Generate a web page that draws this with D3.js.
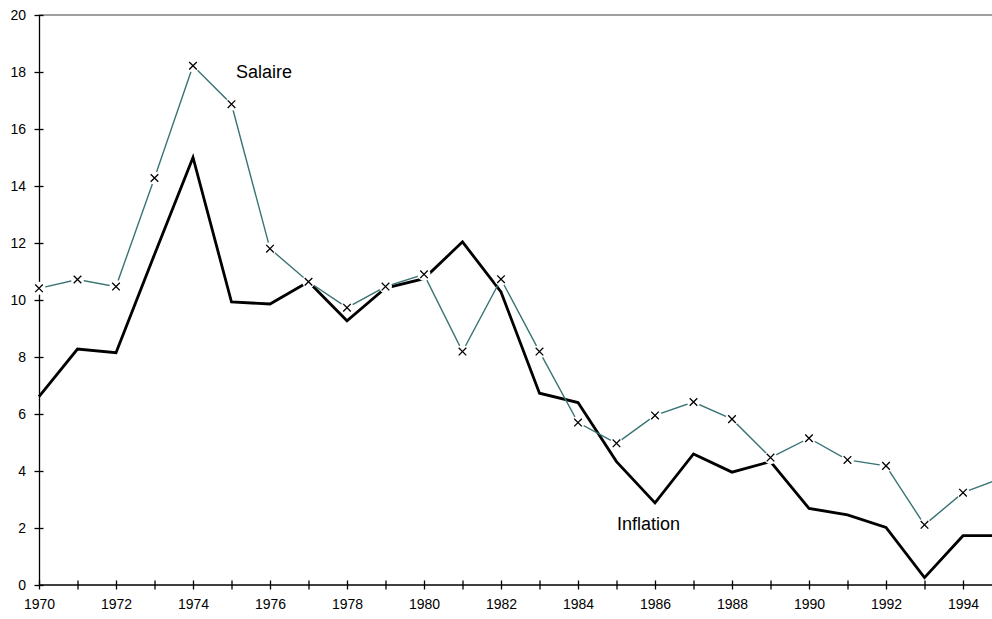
<!DOCTYPE html>
<html>
<head>
    <title>Salaire et inflation</title>
    <script src="https://d3js.org/d3.v7.min.js"></script>
    <style>
        body { margin: 0; background: #fff; font-family: Arial, "Liberation Sans", sans-serif; }
        .axis text { font-size: 14px; fill: #000; font-family: Arial, "Liberation Sans", sans-serif; }
        .axis path, .axis line { stroke: #000; stroke-width: 1.3; }
        .label { font-size: 18px; fill: #000; }
    </style>
</head>
<body>
    <div id="chart"></div>
    <script>
        // Values
        const years = d3.range(1970, 1996);
        const salaire = [10.41, 10.72, 10.47, 14.28, 18.22, 16.87, 11.8, 10.64, 9.73, 10.47,
                         10.9, 8.19, 10.73, 8.19, 5.70, 4.97, 5.95, 6.42, 5.82, 4.47,
                         5.15, 4.39, 4.18, 2.11, 3.24, 3.75];
        const inflation = [6.61, 8.28, 8.15, 11.6, 15.0, 9.93, 9.86, 10.64, 9.27, 10.42,
                           10.75, 12.04, 10.28, 6.73, 6.40, 4.33, 2.88, 4.60, 3.96, 4.33,
                           2.69, 2.46, 2.02, 0.26, 1.73, 1.73];
        const yTicks = [0, 2, 4, 6, 8, 10, 12, 14, 16, 18, 20];

        const width = 992;
        const height = 619;
        const plotLeft = 39, plotTop = 15, plotBottom = 585;

        const svg = d3.select('#chart')
            .append('svg')
            .attr('width', width)
            .attr('height', height);

        const x = d3.scaleLinear().domain([1970, 1995]).range([plotLeft, plotLeft + 25 * 38.5]);
        const y = d3.scaleLinear().domain([0, 20]).range([plotBottom, plotTop]);

        // top border of plot area
        svg.append('line')
            .attr('x1', plotLeft).attr('x2', width)
            .attr('y1', plotTop).attr('y2', plotTop)
            .attr('stroke', '#808080')
            .attr('stroke-width', 1.6);

        // x axis, ticks cross the line
        const xAxis = svg.append('g')
            .attr('class', 'axis')
            .attr('transform', `translate(0,${plotBottom})`)
            .call(d3.axisBottom(x)
                .tickValues(years)
                .tickSize(0)
                .tickSizeOuter(0)
                .tickFormat(d => d % 2 === 0 ? d : ''));
        xAxis.select('.domain').attr('d', `M${plotLeft},0H${width}`);
        xAxis.selectAll('.tick line').attr('y1', -4.5).attr('y2', 4.5);
        xAxis.selectAll('.tick text').attr('y', 14).attr('dy', '0.71em');

        // y axis
        const yAxis = svg.append('g')
            .attr('class', 'axis')
            .attr('transform', `translate(${plotLeft},0)`)
            .call(d3.axisLeft(y)
                .tickValues(yTicks)
                .tickSize(0)
                .tickSizeOuter(0));
        yAxis.selectAll('.tick line').attr('x1', -4.5).attr('x2', 4.5);
        yAxis.selectAll('.tick text').attr('x', -13);

        const line = d3.line()
            .x((d, i) => x(years[i]))
            .y(d => y(d));

        svg.append('path')
            .datum(inflation)
            .attr('fill', 'none')
            .attr('stroke', '#000')
            .attr('stroke-width', 2.8)
            .attr('stroke-linejoin', 'miter')
            .attr('d', line);

        svg.append('path')
            .datum(salaire)
            .attr('fill', 'none')
            .attr('stroke', '#3a7373')
            .attr('stroke-width', 1.4)
            .attr('d', line);

        // markers: white pad with a black cross
        const marker = svg.append('g')
            .selectAll('g')
            .data(salaire)
            .enter().append('g')
            .attr('transform', (d, i) => `translate(${x(years[i])},${y(d)})`);

        marker.append('circle')
            .attr('r', 6.5)
            .attr('fill', '#fff');

        marker.append('path')
            .attr('d', 'M-3.8,-3.8L3.8,3.8M-3.8,3.8L3.8,-3.8')
            .attr('stroke', '#000')
            .attr('stroke-width', 1.3);

        // series labels
        svg.append('text')
            .attr('class', 'label')
            .attr('x', 236)
            .attr('y', 77.5)
            .text('Salaire');

        svg.append('text')
            .attr('class', 'label')
            .attr('x', 617)
            .attr('y', 529.5)
            .text('Inflation');
    </script>
</body>
</html>
